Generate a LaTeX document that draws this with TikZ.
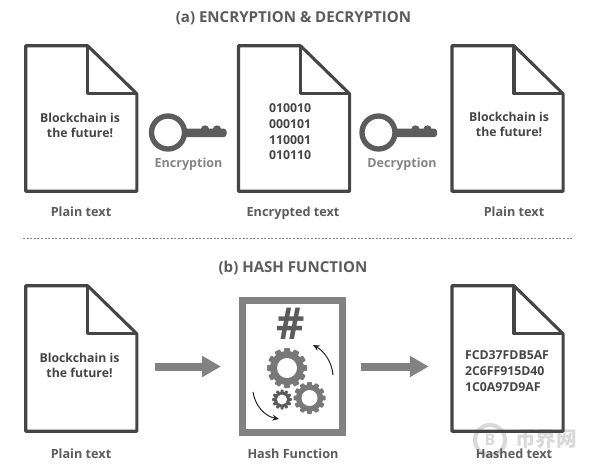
\documentclass[tikz,border=0pt]{standalone}
\usepackage{fontspec}
\setmainfont{Open Sans}
\newfontfamily\cjkwm{Noto Sans CJK SC}
\usetikzlibrary{arrows.meta,calc}
\definecolor{inkdark}{gray}{0.27}
\definecolor{inkmid}{gray}{0.36}
\definecolor{inklight}{gray}{0.52}
\definecolor{gearcol}{gray}{0.47}
\definecolor{framecol}{gray}{0.51}
\definecolor{wmcol}{gray}{0.85}
\tikzset{
  bodytext/.style={font=\bfseries\fontsize{9.2}{12}\selectfont,text=inkdark,align=center,inner sep=0pt},
  captext/.style={font=\bfseries\fontsize{9.5}{12}\selectfont,text=inkmid,inner sep=0pt},
  keytext/.style={font=\bfseries\fontsize{9.4}{12}\selectfont,text=inklight,inner sep=0pt},
  headtext/.style={font=\bfseries\fontsize{11.3}{13}\selectfont,text=inkmid,inner sep=0pt},
  docbox/.style={minimum width=82.9pt,minimum height=108.75pt,inner sep=0pt},
  docline/.style={draw=inkdark,line width=2.3pt,line join=round},
  bigarrow/.style={draw=framecol,line width=6pt,-{Triangle[length=14pt,width=15pt]}},
  turnarrow/.style={draw=black!85,line width=0.75pt,-{Stealth[length=5pt,width=4.5pt]}}
}
\newcommand{\docshape}[3]{%
  \node[docbox] (#1) at (#2,#3) {};
  \draw[docline] (#1.north west) -- ++(62,0) coordinate (#1f)
     -- ($(#1.north east)+(0,48)$) coordinate (#1g) -- (#1.south east) -- (#1.south west) -- cycle;
  \draw[docline] (#1f) -- ++(0,48) -- (#1g);
}
\newcommand{\keyshape}[2]{%
  \begin{scope}[shift={(#1,#2)}]
    \fill[inkmid,rounded corners=2pt] (14,-3.8) rectangle (58.5,4.5);
    \fill[inkmid] (37,-3) circle (4.2) (49,-3) circle (4.2);
    \draw[inkmid,line width=4pt,fill=white] (0,0) circle (16.5);
  \end{scope}
}
\newcommand{\gearshape}[6]{% x y outer root hole colour
  \begin{scope}[shift={(#1,#2)}]
    \foreach \a in {0,30,...,330}{
      \fill[#6,rotate=\a,rounded corners=0.6pt] (-#3*0.15,0) rectangle (#3*0.15,-#3);
    }
    \fill[#6] (0,0) circle (#4);
    \fill[white] (0,0) circle (#5);
  \end{scope}
}
\begin{document}
\begin{tikzpicture}[x=0.75pt,y=-0.75pt]
\useasboundingbox (0,0) rectangle (591,469);
\fill[white] (0,0) rectangle (591,469);

% watermark
\draw[wmcol,line width=3pt] (490,440) circle (15);
\node[inner sep=0pt,text=wmcol,font=\bfseries\fontsize{12}{12}\selectfont] (wmb) at (490,440) {B};
\node[inner sep=0pt,text=wmcol,font=\cjkwm\bfseries\fontsize{15.5}{16}\selectfont] (wmt) at (546,438.5) {币界网};

% headings
\node[headtext] (titlea) at (293.5,18) {(a) ENCRYPTION \& DECRYPTION};
\node[headtext] (titleb) at (293,267.5) {(b) HASH FUNCTION};
\coordinate (sepl) at (23,238);
\coordinate (sepr) at (572,238);
\draw[inklight,line width=0.6pt,dash pattern=on 1.5pt off 1.2pt] (sepl) -- (sepr);

% documents
\docshape{d1}{81.25}{118.5}
\docshape{d2}{294}{118.5}
\docshape{d3}{507.5}{118.5}
\docshape{d4}{81.25}{358.5}
\docshape{d6}{507.5}{358.5}

% document texts
\node[bodytext] (t1) at (80,125.5) {Blockchain is\\[-0.2pt]the future!};
\node[bodytext,align=left] (t2) at (290,132) {010010\\[-0.2pt]000101\\[-0.2pt]110001\\[-0.2pt]010110};
\node[bodytext] (t3) at (509,124.5) {Blockchain is\\[-0.2pt]the future!};
\node[bodytext] (t4) at (79.5,365.5) {Blockchain is\\[-0.2pt]the future!};
\node[bodytext,align=left] (t6) at (507,371) {FCD37FDB5AF\\[-0.2pt]2C6FF915D40\\[-0.2pt]1C0A97D9AF};

% keys
\keyshape{168}{132.5}
\keyshape{378.5}{132.5}
\node[keytext] (enc) at (188.5,164) {Encryption};
\node[keytext] (dec) at (402,164) {Decryption};

% hash function box
\node[draw=framecol,line width=5.4pt,minimum width=75pt,minimum height=99pt,inner sep=0pt] (hash) at (292.5,366.5) {};
\node[inner sep=0pt,text=inkmid,font=\bfseries\fontsize{33}{33}\selectfont] (sharp) at (291,324) {\#};
\gearshape{287}{368}{20}{17}{10}{gearcol}
\gearshape{309.5}{398}{16}{13.5}{8}{gearcol}
\gearshape{282}{399.5}{10}{8}{5}{inkmid}
\coordinate (r1) at (333,375);
\coordinate (r2) at (313,345);
\coordinate (r3) at (253,392);
\coordinate (r4) at (279,419);
\draw[turnarrow] (r1) .. controls (332,362) and (324,351) .. (r2);
\draw[turnarrow] (r3) .. controls (255,405) and (264,416) .. (r4);

% arrows
\draw[bigarrow,shorten <=13.5pt,shorten >=13.5pt] (d4.east |- hash.west) -- (hash.west);
\draw[bigarrow,shorten <=11.5pt,shorten >=17.5pt] (hash.east) -- (d6.west |- hash.east);

% captions
\node[captext] (c1) at (81,211.5) {Plain text};
\node[captext] (c2) at (293,213) {Encrypted text};
\node[captext] (c3) at (514,211.5) {Plain text};
\node[captext] (c4) at (81,453.5) {Plain text};
\node[captext] (c5) at (293,453.5) {Hash Function};
\node[captext] (c6) at (514,453.5) {Hashed text};
\end{tikzpicture}
\end{document}
